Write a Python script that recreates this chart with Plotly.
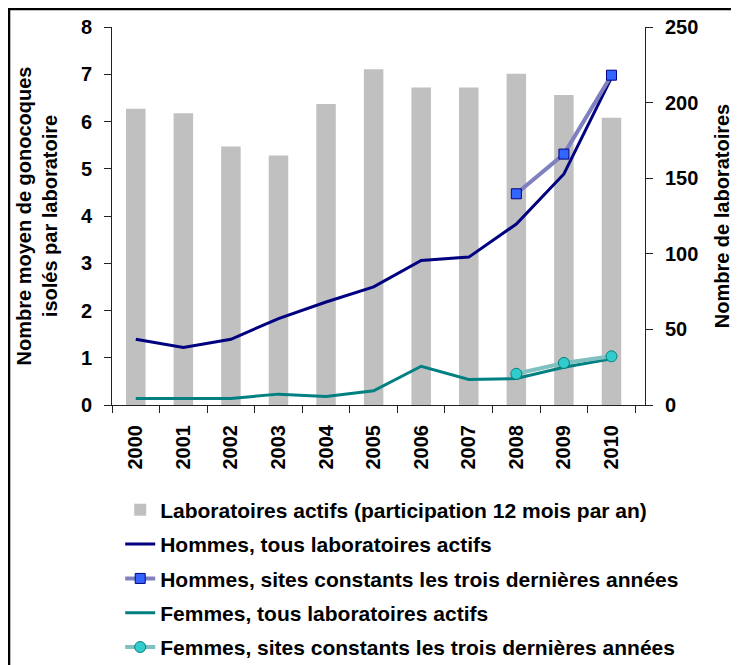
import plotly.graph_objects as go

years = ["2000", "2001", "2002", "2003", "2004", "2005", "2006", "2007", "2008", "2009", "2010"]
labs_actifs = [196, 193, 171, 165, 199, 222, 210, 210, 219, 205, 190]
hommes_tous = [1.39, 1.22, 1.39, 1.83, 2.18, 2.5, 3.06, 3.13, 3.83, 4.89, 6.93]
hommes_const_years = ["2008", "2009", "2010"]
hommes_const = [4.47, 5.31, 6.98]
femmes_tous = [0.14, 0.14, 0.14, 0.23, 0.18, 0.30, 0.82, 0.54, 0.56, 0.80, 0.98]
femmes_const_years = ["2008", "2009", "2010"]
femmes_const = [0.66, 0.89, 1.03]

FONT = "Liberation Sans, Arial, sans-serif"

fig = go.Figure()
fig.add_trace(go.Bar(
    x=years, y=labs_actifs, name="Laboratoires actifs (participation 12 mois par an)",
    marker=dict(color="#C0C0C0", line=dict(width=0)), yaxis="y", legendgroup="a"))
fig.add_trace(go.Scatter(
    x=years, y=hommes_tous, name="Hommes, tous laboratoires actifs", mode="lines",
    line=dict(color="#000080", width=3), yaxis="y2", legendgroup="b"))
fig.add_trace(go.Scatter(
    x=hommes_const_years, y=hommes_const, name="Hommes, sites constants les trois dernières années",
    mode="lines+markers", line=dict(color="#8080C0", width=4),
    marker=dict(symbol="square", size=10, color="#3366FF", line=dict(color="#000080", width=1)),
    yaxis="y2", legendgroup="c"))
fig.add_trace(go.Scatter(
    x=years, y=femmes_tous, name="Femmes, tous laboratoires actifs", mode="lines",
    line=dict(color="#008080", width=3), yaxis="y2", legendgroup="d"))
fig.add_trace(go.Scatter(
    x=femmes_const_years, y=femmes_const, name="Femmes, sites constants les trois dernières années",
    mode="lines+markers", line=dict(color="#80C0C0", width=4),
    marker=dict(symbol="circle", size=11, color="#33CCCC", line=dict(color="#008080", width=1)),
    yaxis="y2", legendgroup="e"))

axis_common = dict(showgrid=False, zeroline=False, showline=True, linecolor="#222222", linewidth=1,
                   ticks="outside", ticklen=7, tickcolor="#222222", automargin=False,
                   tickfont=dict(family=FONT, size=20, color="black", weight="bold"))

fig.update_layout(
    width=739, height=665,
    margin=dict(l=104, r=102, t=19, b=268, autoexpand=False),
    paper_bgcolor="white", plot_bgcolor="white",
    font=dict(family=FONT, color="black"),
    bargap=0.59,
    showlegend=True,
    xaxis=dict(type="category", tickangle=-90, tickson="boundaries", ticklabelstandoff=11, **axis_common),
    yaxis=dict(side="right", range=[0, 250], dtick=50, ticklabelstandoff=8,
               title=dict(text="Nombre de laboratoires", font=dict(family=FONT, size=20, weight="bold"), standoff=17),
               **axis_common),
    yaxis2=dict(side="left", overlaying="y", range=[0, 8], dtick=1, ticklabelstandoff=8,
                title=dict(text="Nombre moyen de gonocoques<br>isolés par laboratoire",
                           font=dict(family=FONT, size=20, weight="bold"), standoff=17),
                **axis_common),
    legend=dict(x=0.0154, xanchor="left", y=-0.224, yanchor="top", orientation="v",
                font=dict(family=FONT, size=21, color="black", weight="bold"),
                tracegroupgap=4, bgcolor="rgba(0,0,0,0)"),
    shapes=[dict(type="rect", xref="paper", yref="paper", x0=-0.1932, x1=1.5, y0=-1.0, y1=1.0476,
                 line=dict(color="black", width=2.5), fillcolor="rgba(0,0,0,0)", layer="below")],
)

fig.write_html("out.html")
